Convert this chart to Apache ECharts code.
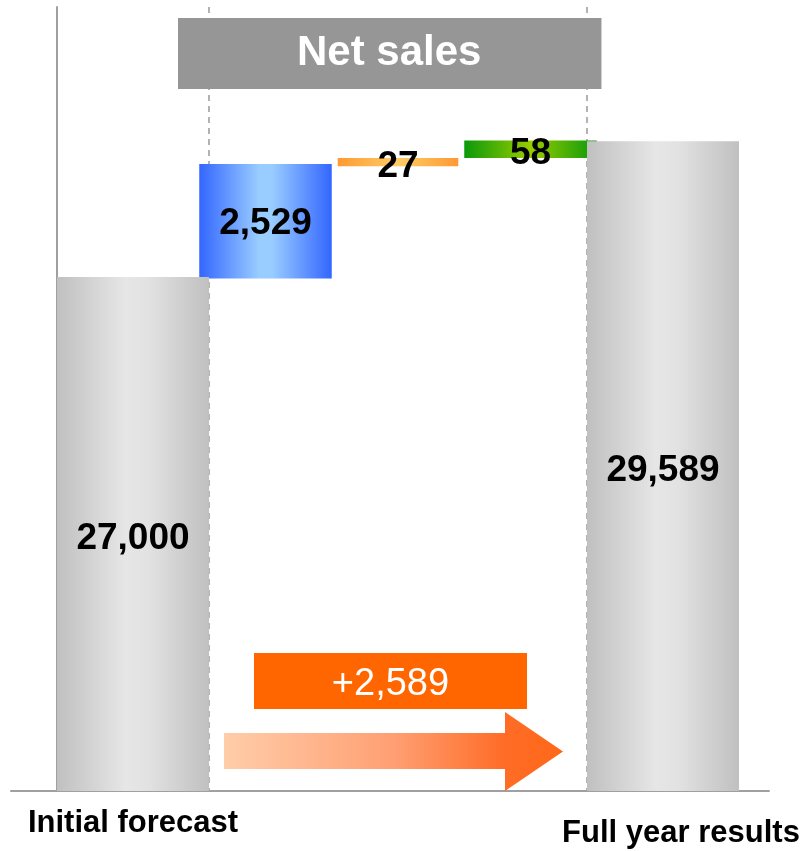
<!DOCTYPE html>
<html>
<head>
<meta charset="utf-8">
<script src="https://cdn.jsdelivr.net/npm/echarts@6/dist/echarts.min.js"></script>
<style>
  html, body { margin: 0; padding: 0; background: #fff; }
  #chart { width: 803px; height: 851px; }
</style>
</head>
<body>
<div id="chart"></div>
<script>
// ---- Data -------------------------------------------------------------
const categories = ['Initial forecast', '', '', '', 'Full year results'];
const initialForecast = 27000;
const changeValues = [2529, 27, 58];      // increments between forecast and result
const fullYearResult = 29589;
const titleText = 'Net sales';

// ---- Styling ----------------------------------------------------------
const FONT = '"Liberation Sans", Arial, Helvetica, sans-serif';
const AXIS_GRAY = '#a0a0a0';

function hGradient(stops) {
  return {
    type: 'linear', x: 0, y: 0, x2: 1, y2: 0,
    colorStops: stops.map(([offset, color]) => ({ offset, color }))
  };
}
const totalFill = hGradient([[0, '#c0c0c0'], [0.45, '#e6e6e6'], [0.6, '#e2e2e2'], [1, '#c0c0c0']]);
const changeFills = [
  hGradient([[0, '#3366ff'], [0.45, '#99ccff'], [0.55, '#99ccff'], [1, '#3366ff']]),
  hGradient([[0, '#ff9933'], [0.5, '#ffcc66'], [1, '#ff9933']]),
  hGradient([[0, '#0a990a'], [0.5, '#99cc00'], [1, '#0a990a']])
];
const changeWidthRatio = [1.0, 0.91, 1.0];
const totalWidthRatio = 1.147;

const fmt = v => v.toLocaleString('en-US');

// ---- Derived series data ---------------------------------------------
const totalData = [
  [0, initialForecast],
  [categories.length - 1, fullYearResult]
];
let running = initialForecast;
const changeData = changeValues.map((v, i) => {
  const low = running;
  running += v;
  return [i + 1, low, running];
});
// the large increment uses its own scale; the two small ones are magnified
const majorChangeData = changeData.slice(0, 1);
const minorChangeData = changeData.slice(1);

// ---- Renderers ---------------------------------------------------------
function valueLabel(x, y, text) {
  return {
    type: 'text', x, y, z2: 10,
    style: {
      text, fill: '#000', font: 'bold 37px ' + FONT,
      align: 'center', verticalAlign: 'middle'
    }
  };
}

function renderTotal(params, api) {
  const cat = api.value(0);
  const val = api.value(1);
  const band = api.size([1, 0])[0];
  const w = band * totalWidthRatio;
  const top = api.coord([cat, val]);
  const base = params.coordSys.y + params.coordSys.height;
  return {
    type: 'group',
    children: [
      { type: 'rect', shape: { x: top[0] - w / 2, y: top[1], width: w, height: base - top[1] },
        style: { fill: totalFill } },
      valueLabel(top[0], (top[1] + base) / 2 + 5, fmt(val))
    ]
  };
}

function renderSeparator(params, api) {
  const cat = api.value(0);
  const band = api.size([1, 0])[0];
  const w = band * totalWidthRatio;
  const c = api.coord([cat, api.value(1)])[0];
  const cs = params.coordSys;
  const x = c < cs.x + cs.width / 2 ? c + w / 2 : c - w / 2;
  return {
    type: 'line',
    shape: { x1: x, y1: cs.y, x2: x, y2: cs.y + cs.height },
    style: { stroke: '#9a9a9a', lineWidth: 1.5, lineDash: [6, 5] }
  };
}

function renderChange(params, api) {
  const cat = api.value(0);
  const low = api.value(1);
  const high = api.value(2);
  const i = cat - 1;
  const band = api.size([1, 0])[0];
  const w = band * changeWidthRatio[i];
  const pTop = api.coord([cat, high]);
  const pLow = api.coord([cat, low]);
  const h = pLow[1] - pTop[1];
  // thin bars carry their label slightly below the centre line
  const dy = h < 30 ? 5 : 2;
  return {
    type: 'group',
    children: [
      { type: 'rect', shape: { x: pTop[0] - w / 2, y: pTop[1], width: w, height: h },
        style: { fill: changeFills[i] } },
      valueLabel(pTop[0], pTop[1] + h / 2 + dy, fmt(high - low))
    ]
  };
}

// ---- Chart -------------------------------------------------------------
const chart = echarts.init(document.getElementById('chart'), null, { renderer: 'canvas' });

const hiddenY = (gridIndex, min, max) => ({
  type: 'value', gridIndex, min, max, show: false, splitLine: { show: false }
});

const option = {
  animation: false,
  backgroundColor: '#fff',
  title: {
    text: titleText,
    left: 178, top: 18,
    padding: [14, 120, 15, 119],
    backgroundColor: '#969696',
    textStyle: { color: '#fff', fontSize: 42, fontWeight: 'bold', fontFamily: FONT, lineHeight: 42 }
  },
  grid: [
    { left: 66.75, right: 73.75, top: 7, bottom: 60 },
    { left: 11, right: 34, top: 7, bottom: 60 }
  ],
  xAxis: [
    {
      type: 'category', gridIndex: 0, data: categories,
      axisLine: { show: false }, axisTick: { show: false },
      axisLabel: {
        interval: 0, margin: 17,
        formatter: (v, idx) => v ? (idx === categories.length - 1 ? '{last|' + v + '}' : '{first|' + v + '}') : '',
        rich: {
          first: { fontSize: 31, fontWeight: 'bold', color: '#000', fontFamily: FONT },
          last: { fontSize: 31, fontWeight: 'bold', color: '#000', fontFamily: FONT, padding: [10, 0, 0, 36] }
        }
      }
    },
    {
      type: 'value', gridIndex: 1,
      axisLine: { show: true, onZero: false, lineStyle: { color: AXIS_GRAY, width: 2 } },
      axisLabel: { show: false }, axisTick: { show: false }, splitLine: { show: false }
    }
  ],
  yAxis: [
    {
      type: 'value', gridIndex: 0, min: 17200, max: 32150,
      position: 'left', offset: 10.25,
      axisLine: { show: true, onZero: false, lineStyle: { color: AXIS_GRAY, width: 2 } },
      axisLabel: { show: false }, axisTick: { show: false }, splitLine: { show: false }
    },
    hiddenY(0, 15680, 33000),
    hiddenY(0, 27465, 30055),
    hiddenY(1, 0, 1)
  ],
  series: [
    {
      name: 'separators', type: 'custom', xAxisIndex: 0, yAxisIndex: 0, z: 1,
      renderItem: renderSeparator, data: totalData, silent: true
    },
    {
      name: 'major change', type: 'custom', xAxisIndex: 0, yAxisIndex: 1, z: 2,
      renderItem: renderChange, data: majorChangeData, encode: { x: 0, y: [1, 2] }
    },
    {
      name: 'minor changes', type: 'custom', xAxisIndex: 0, yAxisIndex: 2, z: 2,
      renderItem: renderChange, data: minorChangeData, encode: { x: 0, y: [1, 2] }
    },
    {
      name: 'totals', type: 'custom', xAxisIndex: 0, yAxisIndex: 0, z: 3,
      renderItem: renderTotal, data: totalData, encode: { x: 0, y: 1 }
    }
  ]
};
chart.setOption(option);

// ---- Overall change annotation: box + arrow between the two totals ----
(function drawOverallChange() {
  const band = chart.convertToPixel({ xAxisIndex: 0 }, 1) - chart.convertToPixel({ xAxisIndex: 0 }, 0);
  const half = band * totalWidthRatio / 2;
  const innerLeft = chart.convertToPixel({ xAxisIndex: 0 }, 0) + half;
  const innerRight = chart.convertToPixel({ xAxisIndex: 0 }, categories.length - 1) - half;
  const base = chart.convertToPixel({ yAxisIndex: 0 }, 17200);

  const diff = fullYearResult - initialForecast;
  const boxL = innerLeft + 45, boxR = innerRight - 60;
  const boxT = base - 138, boxB = base - 82;

  const x0 = innerLeft + 15, tip = innerRight - 24, headX = tip - 58;
  const shaftT = base - 58, shaftB = base - 22;
  const headT = base - 79, headB = base, midY = (headT + headB) / 2;

  chart.setOption({
    graphic: [
      {
        type: 'rect', z: 20,
        shape: { x: boxL, y: boxT, width: boxR - boxL, height: boxB - boxT },
        style: { fill: '#ff6600' }
      },
      {
        type: 'text', z: 21,
        x: (boxL + boxR) / 2, y: (boxT + boxB) / 2 + 4,
        style: {
          text: (diff >= 0 ? '+' : '') + fmt(diff), fill: '#fff',
          font: '38px ' + FONT, align: 'center', verticalAlign: 'middle'
        }
      },
      {
        type: 'polygon', z: 20,
        shape: {
          points: [
            [x0, shaftT], [headX, shaftT], [headX, headT], [tip, midY],
            [headX, headB], [headX, shaftB], [x0, shaftB]
          ]
        },
        style: {
          fill: hGradient([[0, '#ffcda9'], [0.5, '#ff9f73'], [0.83, '#ff6c26'], [1, '#ff6818']])
        }
      }
    ]
  });
})();
</script>
</body>
</html>
